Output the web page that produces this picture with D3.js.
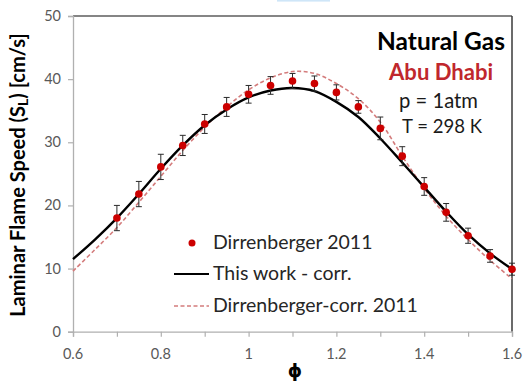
<!DOCTYPE html>
<html>
<head>
<meta charset="utf-8">
<script src="https://cdn.jsdelivr.net/npm/d3@7"></script>
<style>
  html, body { margin: 0; padding: 0; background: #fff; }
  svg { display: block; }
</style>
</head>
<body>
<svg id="chart" width="524" height="383"></svg>
<script>
// Measured laminar flame speeds (Dirrenberger 2011) with error bars
const phi   = [0.7, 0.75, 0.8, 0.85, 0.9, 0.95, 1.0, 1.05, 1.1, 1.15, 1.2, 1.25, 1.3, 1.35, 1.4, 1.45, 1.5, 1.55, 1.6];
const sL    = [18.0, 21.8, 26.1, 29.5, 32.9, 35.6, 37.6, 39.0, 39.7, 39.3, 37.9, 35.6, 32.2, 27.8, 23.0, 18.9, 15.2, 12.0, 9.9];
const sLErr = [2.0, 2.0, 2.0, 1.6, 1.5, 1.5, 1.4, 1.4, 1.2, 1.2, 1.2, 1.0, 1.8, 1.5, 1.4, 1.4, 1.2, 1.0, 0.95];

// Correlation curves
const curvePhi = [0.6, 0.65, 0.7, 0.75, 0.8, 0.85, 0.9, 0.95, 1.0, 1.05, 1.1, 1.15, 1.2, 1.25, 1.3, 1.35, 1.4, 1.45, 1.5, 1.55, 1.6];
const thisWork = [11.5, 14.6, 18.0, 21.8, 25.8, 29.5, 32.7, 35.2, 37.1, 38.2, 38.6, 38.1, 36.4, 34.0, 30.6, 26.8, 22.9, 19.0, 15.4, 12.4, 9.9];
const dirrCorr = [9.6, 13.0, 16.5, 20.5, 24.6, 28.7, 32.4, 35.6, 38.3, 40.2, 41.2, 40.9, 39.3, 36.9, 33.2, 27.8, 22.7, 18.3, 14.6, 11.3, 8.4];

// Axis ticks and labels
const xTicks = [0.6, 0.7, 0.8, 0.9, 1.0, 1.1, 1.2, 1.3, 1.4, 1.5, 1.6];
const xLabels = [0.6, 0.8, 1.0, 1.2, 1.4, 1.6];
const yTicks = [0, 10, 20, 30, 40, 50];

const FONT = "Lato, 'Open Sans', sans-serif";
const svg = d3.select("#chart");

const plotLeft = 73, plotRight = 512, plotTop = 16, plotBottom = 331.7;
const x = d3.scaleLinear().domain([0.6, 1.6]).range([plotLeft, plotRight]);
const y = d3.scaleLinear().domain([0, 50]).range([plotBottom, plotTop]);

// scale a text's font size so that it runs to the given width
function fitWidth(sel, w) {
  const len = sel.node().getComputedTextLength();
  if (len > 0) sel.attr("font-size", +sel.attr("font-size") * w / len);
  return sel;
}

// thin highlight strip at the top edge
svg.append("rect").attr("x", 277).attr("y", 0).attr("width", 53).attr("height", 1.6).attr("fill", "#cfe6f8");

// frame: top and right borders
svg.append("line").attr("x1", plotLeft).attr("x2", plotRight).attr("y1", plotTop).attr("y2", plotTop)
  .attr("stroke", "#858585").attr("stroke-width", 2);
svg.append("line").attr("x1", plotRight).attr("x2", plotRight).attr("y1", plotTop).attr("y2", plotBottom)
  .attr("stroke", "#3a3a3a").attr("stroke-width", 1.5);

// axes
const xAxis = d3.axisBottom(x).tickValues(xTicks).tickSize(5).tickFormat("");
const gx = svg.append("g").attr("transform", `translate(0,${plotBottom})`).call(xAxis);
gx.select(".domain").attr("stroke", "#b0b0b0").attr("stroke-width", 1.3);
gx.selectAll(".tick line").attr("stroke", "#b0b0b0").attr("stroke-width", 1.2);

const yAxis = d3.axisLeft(y).tickValues(yTicks).tickSize(5).tickFormat("");
const gy = svg.append("g").attr("transform", `translate(${plotLeft},0)`).call(yAxis);
gy.select(".domain").attr("stroke", "#b0b0b0").attr("stroke-width", 1.3);
gy.selectAll(".tick line").attr("stroke", "#b0b0b0").attr("stroke-width", 1.2);

// tick labels
svg.append("g").selectAll("text").data(xLabels).join("text")
  .attr("x", d => x(d)).attr("y", 358.5)
  .attr("text-anchor", "middle")
  .attr("font-family", FONT).attr("font-size", 14.5).attr("fill", "#595959")
  .text(d => d3.format("~g")(d));

svg.append("g").selectAll("text").data(yTicks).join("text")
  .attr("x", 61).attr("y", d => y(d) + 5)
  .attr("text-anchor", "end")
  .attr("font-family", FONT).attr("font-size", 14.5).attr("fill", "#595959")
  .text(d => d);

// axis titles
const yTitle = svg.append("text")
  .attr("transform", "translate(25,175) rotate(-90)")
  .attr("text-anchor", "middle")
  .attr("font-family", FONT).attr("font-weight", "bold").attr("font-size", 17).attr("fill", "#000");
yTitle.append("tspan").text("Laminar Flame Speed (S");
yTitle.append("tspan").attr("font-size", "70%").attr("dy", 3).text("L");
yTitle.append("tspan").attr("dy", -3).text(") [cm/s]");
fitWidth(yTitle, 284);

svg.append("text")
  .attr("x", 295).attr("y", 377)
  .attr("text-anchor", "middle")
  .attr("font-family", "'DejaVu Sans', sans-serif").attr("font-weight", "bold").attr("font-size", 18)
  .attr("fill", "#000").text("ϕ");

// correlation curves
const line = d3.line().x((d, i) => x(curvePhi[i])).y(d => y(d)).curve(d3.curveCatmullRom);

svg.append("path").datum(dirrCorr).attr("d", line)
  .attr("fill", "none").attr("stroke", "#d47c7c").attr("stroke-width", 1.6).attr("stroke-dasharray", "4,2.5");
svg.append("path").datum(thisWork).attr("d", line)
  .attr("fill", "none").attr("stroke", "#000").attr("stroke-width", 2.4);

// error bars
const eb = svg.append("g").attr("stroke", "#2a2a2a").attr("stroke-width", 1);
phi.forEach((p, i) => {
  const cx = x(p), hi = y(sL[i] + sLErr[i]), lo = y(sL[i] - sLErr[i]);
  eb.append("line").attr("x1", cx).attr("x2", cx).attr("y1", hi).attr("y2", lo);
  eb.append("line").attr("x1", cx - 3).attr("x2", cx + 3).attr("y1", hi).attr("y2", hi);
  eb.append("line").attr("x1", cx - 3).attr("x2", cx + 3).attr("y1", lo).attr("y2", lo);
});

// measured points
svg.append("g").selectAll("circle").data(phi).join("circle")
  .attr("cx", d => x(d)).attr("cy", (d, i) => y(sL[i])).attr("r", 3.8)
  .attr("fill", "#cc0000");

// annotations
fitWidth(svg.append("text").attr("x", 505).attr("y", 50).attr("text-anchor", "end")
  .attr("font-family", FONT).attr("font-weight", "bold").attr("font-size", 23).attr("fill", "#000")
  .text("Natural Gas"), 128);
fitWidth(svg.append("text").attr("x", 493).attr("y", 80).attr("text-anchor", "end")
  .attr("font-family", FONT).attr("font-weight", "bold").attr("font-size", 21).attr("fill", "#c0272d")
  .text("Abu Dhabi"), 104);
fitWidth(svg.append("text").attr("x", 438.5).attr("y", 108).attr("text-anchor", "middle")
  .attr("font-family", FONT).attr("font-size", 18).attr("fill", "#1a1a1a")
  .text("p = 1atm"), 79);
fitWidth(svg.append("text").attr("x", 442).attr("y", 133).attr("text-anchor", "middle")
  .attr("font-family", FONT).attr("font-size", 18).attr("fill", "#1a1a1a")
  .text("T = 298 K"), 80);

// legend
const lg = svg.append("g");
lg.append("circle").attr("cx", 192).attr("cy", 243).attr("r", 3.5).attr("fill", "#cc0000");
lg.append("line").attr("x1", 174).attr("x2", 209).attr("y1", 274).attr("y2", 274)
  .attr("stroke", "#000").attr("stroke-width", 2.2);
lg.append("line").attr("x1", 174).attr("x2", 209).attr("y1", 306).attr("y2", 306)
  .attr("stroke", "#d47c7c").attr("stroke-width", 1.4).attr("stroke-dasharray", "4,2.5");
const legendText = ["Dirrenberger 2011", "This work - corr.", "Dirrenberger-corr. 2011"];
const legendY = [249, 280, 311.5];
const legendLabels = lg.selectAll("text").data(legendText).join("text")
  .attr("x", 213).attr("y", (d, i) => legendY[i])
  .attr("font-family", FONT).attr("font-size", 19).attr("fill", "#262626")
  .text(d => d);
// one shared size, set from the widest entry
const widest = legendLabels.filter((d, i) => i === 2);
const legendSize = 19 * 205 / widest.node().getComputedTextLength();
legendLabels.attr("font-size", legendSize);
</script>
</body>
</html>
